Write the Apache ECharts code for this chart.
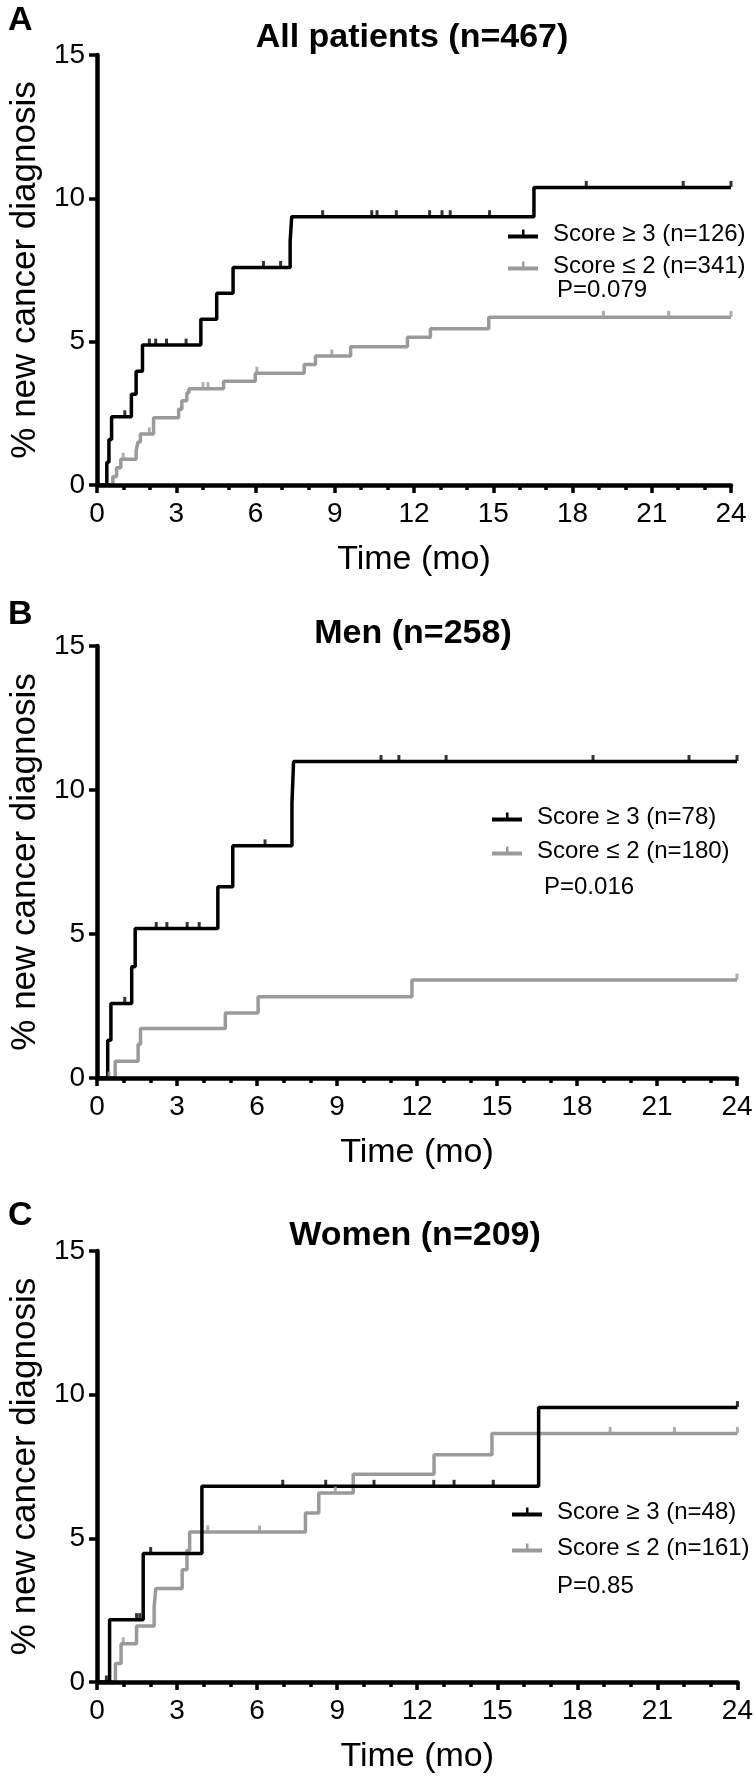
<!DOCTYPE html>
<html><head><meta charset="utf-8">
<script src="https://cdn.jsdelivr.net/npm/echarts@6/dist/echarts.min.js"></script>
<style>html,body{margin:0;padding:0;background:#fff}#c{width:756px;height:1777px}</style>
</head><body><div id="c"></div>
<script>
// ---- data (time in months, cumulative % new cancer diagnosis) ----
var xTicks = [0, 3, 6, 9, 12, 15, 18, 21, 24];
var yTicks = [0, 5, 10, 15];
var panelTitles = ['All patients (n=467)', 'Men (n=258)', 'Women (n=209)'];
var panelLetters = ['A', 'B', 'C'];
var highNames = ['Score \u2265 3 (n=126)', 'Score \u2265 3 (n=78)', 'Score \u2265 3 (n=48)'];
var lowNames = ['Score \u2264 2 (n=341)', 'Score \u2264 2 (n=180)', 'Score \u2264 2 (n=161)'];
var pValues = ['P=0.079', 'P=0.016', 'P=0.85'];

var aHighT = [0, 0.37, 0.45, 0.55, 1.30, 1.48, 1.72, 3.93, 4.53, 5.15, 7.31, 7.37, 16.54, 24];
var aHighV = [0, 0.79, 1.59, 2.38, 3.17, 3.97, 4.88, 5.78, 6.69, 7.59, 8.50, 9.36, 10.38, 10.38];
var aHighCens = [1.05, 1.98, 2.22, 2.63, 3.37, 6.30, 6.95, 8.54, 10.4, 10.6, 11.33, 12.59, 13.06, 13.37, 14.86, 18.52, 22.19, 24];
var aLowT = [0, 0.60, 0.74, 0.90, 1.48, 1.55, 1.64, 2.14, 3.09, 3.21, 3.40, 3.48, 4.79, 5.99, 7.84, 8.27, 9.60, 11.75, 12.62, 14.83, 24];
var aLowV = [0, 0.30, 0.60, 0.90, 1.20, 1.50, 1.78, 2.35, 2.64, 2.94, 3.22, 3.36, 3.62, 3.90, 4.20, 4.50, 4.82, 5.15, 5.45, 5.85, 5.85];
var aLowCens = [0.99, 1.98, 4.01, 4.20, 6.05, 8.89, 19.17, 21.64, 24];

var bHighT = [0, 0.40, 0.52, 1.30, 1.43, 4.53, 5.09, 7.31, 7.37, 24];
var bHighV = [0, 1.31, 2.59, 3.86, 5.19, 6.64, 8.06, 9.54, 10.99, 10.99];
var bHighCens = [1.04, 2.22, 2.62, 3.38, 3.83, 6.30, 10.65, 11.32, 13.09, 18.6, 22.2, 24];
var bLowT = [0, 0.68, 1.54, 1.63, 4.81, 6.04, 11.81, 24];
var bLowV = [0, 0.58, 1.17, 1.72, 2.26, 2.82, 3.40, 3.40];
var bLowCens = [0.45, 24];

var cHighT = [0, 0.47, 1.73, 3.93, 16.55, 24];
var cHighV = [0, 2.17, 4.47, 6.81, 9.55, 9.55];
var cHighCens = [0.35, 1.48, 1.60, 2.01, 6.96, 8.57, 10.38, 12.62, 13.38, 14.85, 24];
var cLowT = [0, 0.69, 0.90, 1.48, 2.14, 2.20, 3.19, 3.37, 3.47, 7.81, 8.31, 9.60, 12.63, 14.80, 24];
var cLowV = [0, 0.64, 1.33, 1.95, 2.61, 3.25, 3.91, 4.58, 5.22, 5.88, 6.58, 7.23, 7.91, 8.65, 8.65];
var cLowCens = [0.98, 4.15, 6.09, 8.93, 19.23, 21.64, 24];

// ---- layout ----
var FONT = "'Liberation Sans', Arial, sans-serif";
var BLACK = '#000000', GRAY = '#9a9a9a';
var grids = [
  {left: 83, top: 55, width: 648, height: 430},
  {left: 89, top: 646, width: 648, height: 432},
  {left: 91, top: 1251, width: 648, height: 431}
];
// legend rows: icon left, row centres, p-value position
var legendPos = [
  {left: 508, rows: [234, 266], tx: 557, py: 290},
  {left: 492, rows: [817, 851], tx: 544, py: 887},
  {left: 512, rows: [1512, 1548], tx: 557, py: 1586}
];
var titleY = [38, 634, 1236];
var titleX = [412, 413, 415];
var letterY = [21, 615, 1216];

var panels = [
  {hT: aHighT, hV: aHighV, hC: aHighCens, lT: aLowT, lV: aLowV, lC: aLowCens},
  {hT: bHighT, hV: bHighV, hC: bHighCens, lT: bLowT, lV: bLowV, lC: bLowCens},
  {hT: cHighT, hV: cHighV, hC: cHighCens, lT: cLowT, lV: cLowV, lC: cLowCens}
];

function pairs(ts, vs) { return ts.map(function (t, i) { return [t, vs[i]]; }); }
function valueAt(ts, vs, t) {
  var v = vs[0];
  for (var i = 0; i < ts.length; i++) { if (ts[i] <= t) v = vs[i]; }
  return v;
}
function cens(ts, vs, cs) { return cs.map(function (t) { return [t, valueAt(ts, vs, t)]; }); }

var ICON = 'path://M0,5 L30,5 L30,9 L0,9 Z M14,0 L16.5,0 L16.5,8 L14,8 Z';

var legends = [];
legendPos.forEach(function (p, i) {
  [highNames[i], lowNames[i]].forEach(function (nm, r) {
    legends.push({
      orient: 'vertical', left: p.left, top: p.rows[r] - 12, itemGap: 0, padding: 0,
      itemWidth: 30, itemHeight: 9, icon: ICON, selectedMode: false,
      data: [nm],
      textStyle: {fontSize: 24, color: '#000', fontFamily: FONT, lineHeight: 24, padding: [0, 0, 0, 10]}
    });
  });
});

var option = {
  animation: false,
  backgroundColor: '#fff',
  grid: grids.map(function (g) { return Object.assign({containLabel: false}, g); }),
  xAxis: grids.map(function (g, i) {
    return {
      type: 'value', gridIndex: i, min: 0, max: 24, interval: 3, z: 5,
      name: 'Time (mo)', nameLocation: 'middle', nameGap: 58,
      nameTextStyle: {fontSize: 34, color: '#000', fontFamily: FONT},
      axisLine: {show: true, onZero: false, lineStyle: {color: '#000', width: 4.5}},
      axisTick: {show: true, length: 8, lineStyle: {color: '#000', width: 3.5}},
      minorTick: {show: true, splitNumber: 3, length: 5, lineStyle: {color: '#000', width: 3.5}},
      splitLine: {show: false},
      axisLabel: {fontSize: 28, color: '#000', fontFamily: FONT, margin: 15,
        formatter: function (v) { return xTicks.indexOf(v) >= 0 ? String(v) : ''; }}
    };
  }),
  yAxis: grids.map(function (g, i) {
    return {
      type: 'value', gridIndex: i, min: 0, max: 15, interval: 5, z: 5,
      name: '% new cancer diagnosis', nameLocation: 'middle', nameGap: 42,
      nameTextStyle: {fontSize: 35, color: '#000', fontFamily: FONT},
      axisLine: {show: true, lineStyle: {color: '#000', width: 4.5}},
      axisTick: {show: true, length: 8, lineStyle: {color: '#000', width: 3.5}},
      splitLine: {show: false},
      axisLabel: {fontSize: 28, color: '#000', fontFamily: FONT, margin: 12,
        formatter: function (v) { return yTicks.indexOf(v) >= 0 ? String(v) : ''; }}
    };
  }),
  legend: legends,
  series: [],
  graphic: []
};

panels.forEach(function (p, i) {
  option.series.push({
    name: highNames[i], type: 'line', step: 'end', xAxisIndex: i, yAxisIndex: i,
    data: pairs(p.hT, p.hV), showSymbol: false, z: 3,
    lineStyle: {color: BLACK, width: 3.5}, itemStyle: {color: BLACK}
  });
  option.series.push({
    name: lowNames[i], type: 'line', step: 'end', xAxisIndex: i, yAxisIndex: i,
    data: pairs(p.lT, p.lV), showSymbol: false, z: 2,
    lineStyle: {color: GRAY, width: 3.5}, itemStyle: {color: GRAY}
  });
  option.series.push({
    name: highNames[i] + ' censored', type: 'scatter', xAxisIndex: i, yAxisIndex: i,
    data: cens(p.hT, p.hV, p.hC), symbol: 'rect', symbolSize: [3, 6], symbolOffset: [0, -3.5], z: 4,
    itemStyle: {color: BLACK}
  });
  option.series.push({
    name: lowNames[i] + ' censored', type: 'scatter', xAxisIndex: i, yAxisIndex: i,
    data: cens(p.lT, p.lV, p.lC), symbol: 'rect', symbolSize: [3, 6], symbolOffset: [0, -3.5], z: 3,
    itemStyle: {color: GRAY}
  });
  option.graphic.push({
    type: 'text', x: titleX[i], y: titleY[i],
    style: {text: panelTitles[i], font: 'bold 34px ' + FONT, fill: '#000', textAlign: 'center', textVerticalAlign: 'middle'}
  });
  option.graphic.push({
    type: 'text', x: 8, y: letterY[i],
    style: {text: panelLetters[i], font: 'bold 34px ' + FONT, fill: '#000', textAlign: 'left', textVerticalAlign: 'middle'}
  });
  option.graphic.push({
    type: 'text', x: legendPos[i].tx, y: legendPos[i].py,
    style: {text: pValues[i], font: '24px ' + FONT, fill: '#000', textAlign: 'left', textVerticalAlign: 'middle'}
  });
});

var chart = echarts.init(document.getElementById('c'), null, {renderer: 'canvas'});
chart.setOption(option);
</script>
</body></html>
